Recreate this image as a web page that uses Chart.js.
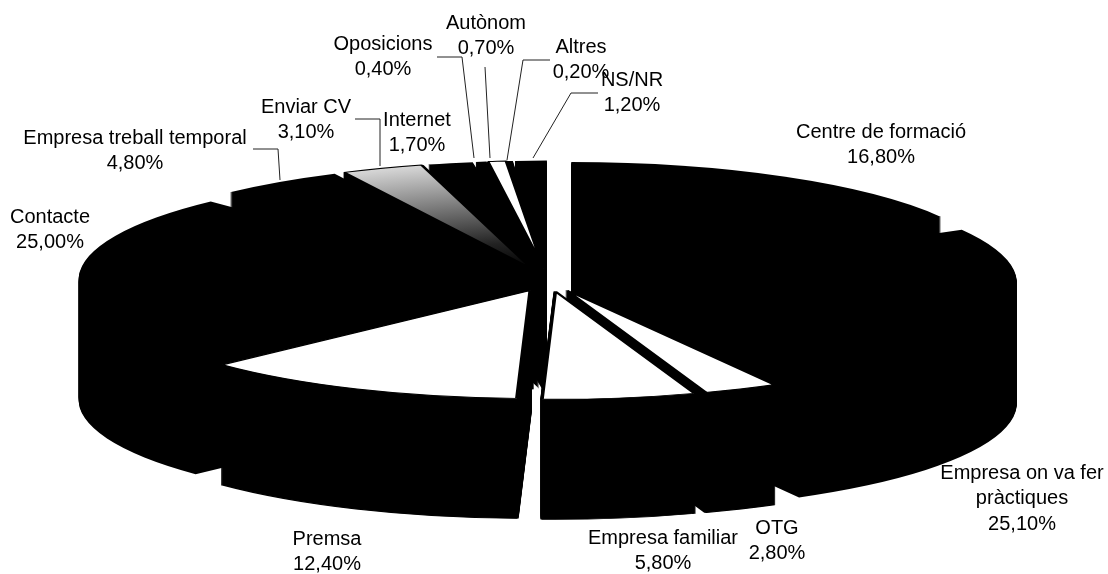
<!DOCTYPE html>
<html><head><meta charset="utf-8">
<style>html,body{margin:0;padding:0;background:#fff}canvas{display:block}</style>
<script src="https://cdn.jsdelivr.net/npm/chart.js@4/dist/chart.umd.min.js"></script>
</head><body><canvas id="c" width="1108" height="574"></canvas>
<script>
const categories = ['Centre de formació','Empresa on va fer pràctiques','OTG','Empresa familiar','Premsa','Contacte','Empresa treball temporal','Enviar CV','Internet','Oposicions','Autònom','Altres','NS/NR'];
const values = [16.8,25.1,2.8,5.8,12.4,25.0,4.8,3.1,1.7,0.4,0.7,0.2,1.2];
const faceColors = ['#000','#000','#fff','#fff','#fff','#000','#000','GRAD','#000','#000','#fff','#000','#000'];

// label layout (centre x, first line y) and wrapped names
const labelLines = categories.map(c => c === 'Empresa on va fer pràctiques' ? ['Empresa on va fer','pràctiques'] : [c]);
const labelPos = [[881,132],[1022,473],[777,528],[663,538],[327,539],[50,217],[135,138],[306,107],[417,120],[383,44],[486,23],[581,47],[632,80]];
const lineGap = 25.8;
const leaders = [
  [[253,149],[278,149],[280,180]],
  [[355,119],[380,119],[380,166]],
  [[437,57],[462,57],[474,158]],
  [[485,67],[490,158]],
  [[550,60],[523,60],[507,160]],
  [[598,93],[571,93],[533,158]]
];

// 3D projection
const CX = 548.6, CY = 280, RX = 425, RY = 108, DEPTH = 120, EXPLODE = 30.4;

const pie3d = {
  id:'pie3d',
  beforeDatasetsDraw(chart){
    const ctx = chart.ctx, arcs = chart.getDatasetMeta(0).data;
    const R = arcs[0].outerRadius, ox = arcs[0].x, oy = arcs[0].y;
    const sx = RX/R, sy = RY/R;
    const items = arcs.map((a,i)=>({a,i,mid:(a.startAngle+a.endAngle)/2}));
    items.sort((p,q)=>Math.sin(p.mid)-Math.sin(q.mid)); // far to near
    const place = (it,d)=>{
      ctx.setTransform(1,0,0,1,0,0);
      ctx.translate(CX,CY+d);
      ctx.scale(sx,sy);
      ctx.translate(Math.cos(it.mid)*EXPLODE,Math.sin(it.mid)*EXPLODE);
      ctx.translate(-ox,-oy);
    };
    for(const it of items){
      const base = it.a.options;
      const bw = faceColors[it.i]==='#000' ? 0 : 2.4;
      ctx.save();
      it.a.options = Object.assign({},base,{backgroundColor:'#000',borderColor:'#000',borderWidth:bw});
      for(let d=DEPTH;d>0;d--){ place(it,d); it.a.draw(ctx,chart.chartArea); }
      let fill = base.backgroundColor;
      if(faceColors[it.i]==='GRAD'){
        const g = ctx.createRadialGradient(ox,oy,0,ox,oy,R);
        g.addColorStop(0,'#000'); g.addColorStop(0.25,'#222'); g.addColorStop(0.6,'#777'); g.addColorStop(1,'#d8d8d8');
        fill = g;
      }
      place(it,0);
      it.a.options = Object.assign({},base,{backgroundColor:fill,borderColor:'#000',borderWidth:bw});
      it.a.draw(ctx,chart.chartArea);
      it.a.options = base;
      ctx.restore();
    }
    return false;
  },
  afterDraw(chart){
    const ctx = chart.ctx;
    ctx.save();
    ctx.setTransform(1,0,0,1,0,0);
    ctx.strokeStyle='#222'; ctx.lineWidth=1;
    for(const l of leaders){
      ctx.beginPath();
      l.forEach((p,i)=> i? ctx.lineTo(p[0],p[1]) : ctx.moveTo(p[0],p[1]));
      ctx.stroke();
    }
    ctx.fillStyle='#000'; ctx.textAlign='center'; ctx.textBaseline='middle';
    ctx.font='20px "Liberation Sans", Arial, sans-serif';
    categories.forEach((c,i)=>{
      const lines = labelLines[i].concat(values[i].toFixed(2).replace('.',',')+'%');
      lines.forEach((t,k)=>ctx.fillText(t,labelPos[i][0],labelPos[i][1]+k*lineGap));
    });
    ctx.restore();
  }
};

new Chart(document.getElementById('c'),{
  type:'pie',
  data:{labels:categories,datasets:[{data:values,backgroundColor:faceColors.map(c=>c==='GRAD'?'#999':c),borderWidth:0}]},
  options:{
    responsive:false,animation:false,
    layout:{padding:0},
    plugins:{legend:{display:false},tooltip:{enabled:false},title:{display:false}}
  },
  plugins:[pie3d]
});
</script></body></html>
